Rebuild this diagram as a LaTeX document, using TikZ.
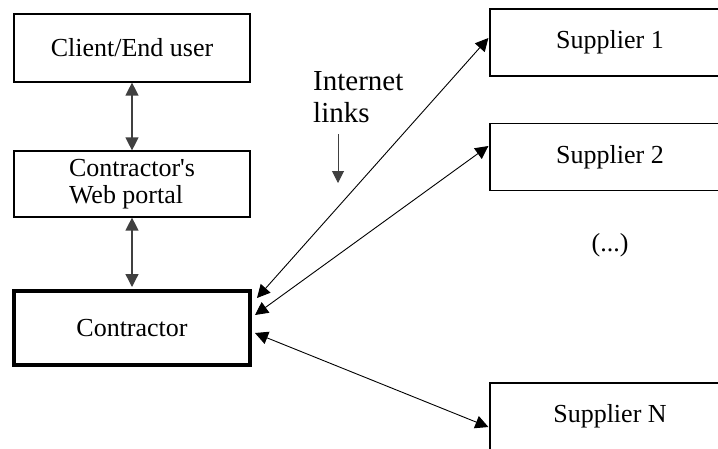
\documentclass[tikz,border=0pt]{standalone}
\usepackage{fontspec}
\setmainfont{Liberation Serif}[Ligatures=TeXOff]
\usetikzlibrary{arrows.meta}
\begin{document}
\begin{tikzpicture}[x=1pt,y=-1pt,
  box/.style={draw=black,line width=1.2pt,minimum width=236pt,inner sep=0pt,align=center,
    font=\fontsize{26}{27}\selectfont},
  thickbox/.style={box,line width=4pt},
  supbox/.style={box,minimum width=240pt,minimum height=67pt},
  link/.style={line width=0.9pt,{Triangle[length=13pt,width=13pt]}-{Triangle[length=13pt,width=13pt]}},
  vlink/.style={link,draw=black!75,line width=1.3pt},
  lbl/.style={inner sep=0pt,font=\fontsize{26}{27}\selectfont}]
\useasboundingbox (0,0) rectangle (718,448);
\clip (0,0) rectangle (718,448);
\node[box,minimum height=68pt] (client) at (132,48) {Client/End user};
\node[box,minimum height=66pt,align=left] (portal) at (132,184) {Contractor's\\Web portal};
\node[thickbox,minimum height=74pt] (contr) at (132,328) {Contractor};
\node[supbox] (s1) at (610,42.5) {Supplier 1};
\node[supbox] (s2) at (610,157) {Supplier 2};
\node[supbox] (sn) at (610,416.5) {Supplier N};
\node[lbl] (dots) at (610,245) {(...)};
\node[inner sep=0pt,anchor=west,align=left,font=\fontsize{29}{32}\selectfont] (inet) at (313,97) {Internet\\links};
\coordinate (ia) at (338,134);
\coordinate (ib) at (338,183);
\draw[line width=1pt,draw=black!75,-{Triangle[length=12pt,width=12pt]}] (ia) -- (ib);
\draw[vlink] (client.south) -- (portal.north);
\draw[vlink] (portal.south) -- ([yshift=2pt]contr.north);
\draw[link] ([xshift=5pt,yshift=30pt]contr.east) -- ([xshift=-1pt,yshift=4.5pt]s1.west);
\draw[link] ([xshift=3pt,yshift=13pt]contr.east) -- ([xshift=-1pt,yshift=11pt]s2.west);
\draw[link] ([xshift=3pt,yshift=-5pt]contr.east) -- ([xshift=-1pt,yshift=-10.5pt]sn.west);
\end{tikzpicture}
\end{document}
